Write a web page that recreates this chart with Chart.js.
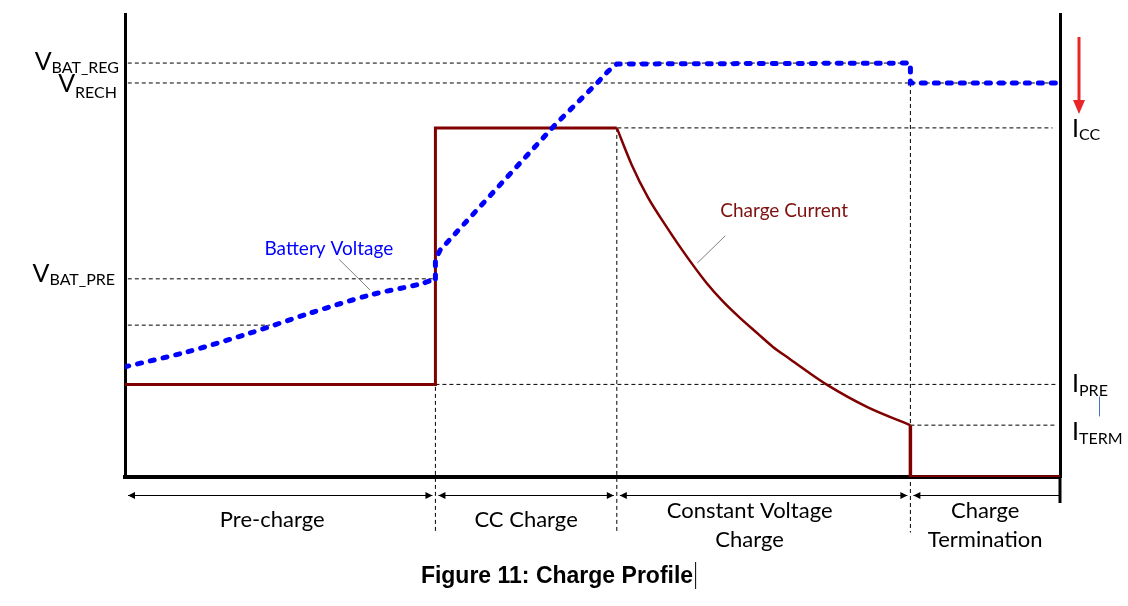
<!DOCTYPE html>
<html>
<head>
<meta charset="utf-8">
<title>Charge Profile</title>
<script src="https://cdn.jsdelivr.net/npm/chart.js@4.4.1/dist/chart.umd.min.js"></script>
<style>
  html,body{margin:0;padding:0;background:#fff}
  #wrap{width:1128px;height:606px;position:relative}
</style>
</head>
<body>
<div id="wrap"><canvas id="profile"></canvas></div>
<script>
// time runs 0..100 from the left wall to the right wall, level 0..100 from floor to top
const phaseEdges = [0, 33.2, 52.6, 84, 100]
const phaseNames = [['Pre-charge'], ['CC Charge'], ['Constant Voltage', 'Charge'], ['Charge', 'Termination']]

const voltLevels = [89.4, 85.1, 42.8]
const voltLabels = [['V', 'BAT_REG'], ['V', 'RECH'], ['V', 'BAT_PRE']]
const currLevels = [75.4, 20, 11.2]
const currLabels = [['I', 'CC'], ['I', 'PRE'], ['I', 'TERM']]

// battery voltage (blue dotted)
const voltPreT = [0, 6.6, 13.4, 19.8, 26.2, 31.6, 33.2]
const voltPreV = [23.8, 27.0, 31.1, 35.4, 39.3, 41.7, 42.8]
const voltMainT = [33.2, 33.2, 33.7, 46.2, 50.5, 51.6, 52.6, 84.0, 84.0, 99.8]
const voltMainV = [42.8, 46.9, 49.0, 76.5, 85.1, 87.5, 89.2, 89.4, 85.1, 85.1]

// charge current (dark red)
const currStepT = [0, 33.2, 33.2, 52.6]
const currStepI = [20, 20, 75.4, 75.4]
const currDecayT = [52.6, 54.2, 55.9, 57.8, 59.6, 62.2, 64.0, 65.8, 67.6, 69.3, 71.1, 72.9, 75.1, 79.4, 84.0]
const currDecayI = [75.4, 67.4, 60.5, 54.4, 49.0, 41.9, 37.8, 34.3, 31.1, 28.1, 25.5, 22.9, 19.9, 15.1, 11.2]
const currEndT = [84.0, 84.0, 100]
const currEndI = [11.2, 0, 0]

// dashed guide lines
const guideLevels = [89.4, 85.1, 75.4, 42.8, 32.8, 20, 11.2]
const guideFrom = [0.3, 0.3, 33.2, 0.3, 0.3, 33.2, 84]
const guideTo = [84, 99.4, 99.2, 33.2, 15.5, 99.7, 99.7]
const guideTimes = [33.2, 52.6, 84]
const guideTops = [75.4, 75.4, 85.1]
const guideBottom = -12

const BLUE = '#0000ff', RED = '#800000'
const SANS = 'Lato, "Open Sans", sans-serif'

const pts = (xs, ys) => xs.map((x, i) => ({x, y: ys[i]}))

const datasets = []
datasets.push({data: pts(voltPreT, voltPreV), borderColor: BLUE, borderWidth: 5, borderDash: [4, 9], borderCapStyle: 'round', tension: 0.3})
datasets.push({data: pts(voltMainT, voltMainV), borderColor: BLUE, borderWidth: 5, borderDash: [4, 9], borderCapStyle: 'round', tension: 0})
datasets.push({data: pts(currStepT, currStepI), borderColor: RED, borderWidth: 3, tension: 0})
datasets.push({data: pts(currDecayT, currDecayI), borderColor: RED, borderWidth: 2.5, cubicInterpolationMode: 'monotone'})
datasets.push({data: pts(currEndT, currEndI), borderColor: RED, borderWidth: 3.5, tension: 0})
guideLevels.forEach((lv, i) => {
  datasets.push({data: [{x: guideFrom[i], y: lv}, {x: guideTo[i], y: lv}], borderColor: '#000', borderWidth: 1, borderDash: [4, 3]})
})
guideTimes.forEach((t, i) => {
  datasets.push({data: [{x: t, y: guideTops[i]}, {x: t, y: guideBottom}], borderColor: '#000', borderWidth: 1, borderDash: [4, 3], clip: false})
})

function subLabel(ctx, big, small, x, yBig, ySmall, align){
  ctx.font = '25px ' + SANS
  const wb = ctx.measureText(big).width
  ctx.font = '16px ' + SANS
  const ws = ctx.measureText(small).width
  const left = align === 'right' ? x - wb - ws : x
  ctx.textAlign = 'left'
  ctx.font = '25px ' + SANS
  ctx.fillText(big, left, yBig)
  ctx.font = '16px ' + SANS
  ctx.fillText(small, left + wb, ySmall)
}

function arrowHead(ctx, x, y, dir){
  ctx.beginPath()
  ctx.moveTo(x, y)
  ctx.lineTo(x - dir * 7, y - 3.5)
  ctx.lineTo(x - dir * 7, y + 3.5)
  ctx.closePath()
  ctx.fill()
}

const decorations = {
  id: 'decorations',
  afterDraw(chart){
    const {ctx, chartArea: area, scales: {x, y}} = chart
    ctx.save()
    ctx.fillStyle = '#000'
    ctx.textBaseline = 'alphabetic'

    // level names on the left
    const leftPos = [[7, 10, -6], [9, 15, -8], [3, 6, -10]]
    voltLevels.forEach((lv, i) => {
      const py = y.getPixelForValue(lv)
      const [dB, dS, dx] = leftPos[i]
      subLabel(ctx, voltLabels[i][0], voltLabels[i][1], area.left + dx, py + dB, py + dS, 'right')
    })
    // current names on the right
    const rightPos = [[9, 12], [8, 12], [15, 19]]
    currLevels.forEach((lv, i) => {
      const py = y.getPixelForValue(lv)
      subLabel(ctx, currLabels[i][0], currLabels[i][1], area.right + 12, py + rightPos[i][0], py + rightPos[i][1], 'left')
    })
    // small blue tick under I_PRE
    const pPre = y.getPixelForValue(currLevels[1])
    ctx.strokeStyle = '#4472c4'; ctx.lineWidth = 1
    ctx.beginPath(); ctx.moveTo(area.right + 39.5, pPre + 12); ctx.lineTo(area.right + 39.5, pPre + 32); ctx.stroke()

    // red arrow
    const ax = area.right + 19
    const pCC = y.getPixelForValue(currLevels[0])
    ctx.strokeStyle = '#e8262a'; ctx.fillStyle = '#e8262a'; ctx.lineWidth = 3
    ctx.beginPath(); ctx.moveTo(ax, area.top + 23); ctx.lineTo(ax, pCC - 26); ctx.stroke()
    ctx.beginPath(); ctx.moveTo(ax - 6, pCC - 28); ctx.lineTo(ax + 6, pCC - 28); ctx.lineTo(ax, pCC - 14); ctx.closePath(); ctx.fill()

    // series captions with leader lines
    ctx.font = '19px ' + SANS
    ctx.textAlign = 'center'
    ctx.fillStyle = BLUE
    ctx.fillText('Battery Voltage', x.getPixelForValue(21.8), y.getPixelForValue(47.9))
    ctx.fillStyle = '#7f1010'
    ctx.fillText('Charge Current', x.getPixelForValue(70.5), y.getPixelForValue(56.2))
    ctx.strokeStyle = '#7f7f7f'; ctx.lineWidth = 1
    ctx.beginPath()
    ctx.moveTo(x.getPixelForValue(22.9), y.getPixelForValue(47.0)); ctx.lineTo(x.getPixelForValue(26.2), y.getPixelForValue(40.4))
    ctx.moveTo(x.getPixelForValue(64.2), y.getPixelForValue(52.1)); ctx.lineTo(x.getPixelForValue(61.2), y.getPixelForValue(46.2))
    ctx.stroke()

    // right wall runs on below the floor
    ctx.strokeStyle = '#000'; ctx.lineWidth = 3
    ctx.beginPath(); ctx.moveTo(area.right, area.bottom); ctx.lineTo(area.right, area.bottom + 26); ctx.stroke()

    // phase arrows and names
    const ay = area.bottom + 18.5
    const bx = phaseEdges.map(e => x.getPixelForValue(e))
    ctx.fillStyle = '#000'; ctx.strokeStyle = '#000'; ctx.lineWidth = 1
    const nudge = [-8, 0, -14, 0]
    for(let i = 0; i < phaseNames.length; i++){
      const last = i === phaseNames.length - 1
      const x1 = bx[i] + 3, x2 = last ? bx[i + 1] : bx[i + 1] - 3
      ctx.beginPath(); ctx.moveTo(x1, ay); ctx.lineTo(x2, ay); ctx.stroke()
      arrowHead(ctx, x1, ay, -1)
      if(!last) arrowHead(ctx, x2, ay, 1)
      const cx = (bx[i] + bx[i + 1]) / 2 + nudge[i]
      ctx.font = '22px ' + SANS
      ctx.textAlign = 'center'
      const lines = phaseNames[i]
      if(lines.length === 1) ctx.fillText(lines[0], cx, area.bottom + 50)
      else { ctx.fillText(lines[0], cx, area.bottom + 41); ctx.fillText(lines[1], cx, area.bottom + 70) }
    }

    // figure caption with the stray text cursor
    ctx.font = 'bold 23px "Liberation Sans", Arial, sans-serif'
    ctx.textAlign = 'left'
    const cap = 'Figure 11: Charge Profile'
    const cw = ctx.measureText(cap).width
    const cx0 = 557 - cw / 2
    ctx.fillText(cap, cx0, 583)
    ctx.lineWidth = 1
    ctx.beginPath(); ctx.moveTo(cx0 + cw + 2.5, 562); ctx.lineTo(cx0 + cw + 2.5, 589); ctx.stroke()
    ctx.restore()
  }
}

const hidden = {display: false}
new Chart(document.getElementById('profile'), {
  type: 'line',
  data: {datasets},
  options: {
    responsive: true,
    maintainAspectRatio: false,
    animation: false,
    layout: {padding: {top: 14}},
    elements: {point: {radius: 0, hoverRadius: 0}},
    plugins: {legend: hidden, tooltip: {enabled: false}},
    events: [],
    scales: {
      x: {type: 'linear', min: 0, max: 100, grid: {display: false, drawTicks: false}, ticks: hidden,
          border: {display: true, color: '#000', width: 4}, afterFit: s => { s.height = 129 }},
      y: {type: 'linear', position: 'left', min: 0, max: 100, grid: {display: false, drawTicks: false}, ticks: hidden,
          border: {display: true, color: '#000', width: 3}, afterFit: s => { s.width = 125 }},
      y2: {type: 'linear', position: 'right', min: 0, max: 100, grid: {display: false, drawTicks: false}, ticks: hidden,
          border: {display: true, color: '#000', width: 3}, afterFit: s => { s.width = 68 }}
    }
  },
  plugins: [decorations]
})
</script>
</body>
</html>
